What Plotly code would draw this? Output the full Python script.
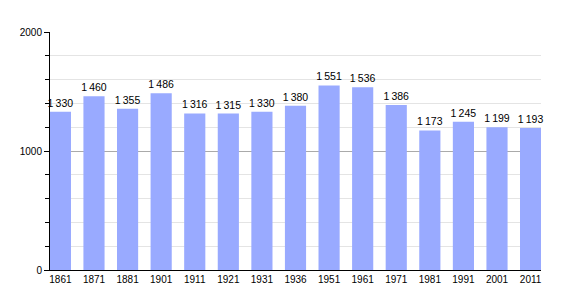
import plotly.graph_objects as go

years = ["1861", "1871", "1881", "1901", "1911", "1921", "1931", "1936",
         "1951", "1961", "1971", "1981", "1991", "2001", "2011"]
population = [1330, 1460, 1355, 1486, 1316, 1315, 1330, 1380,
              1551, 1536, 1386, 1173, 1245, 1199, 1193]
labels = [f"{v // 1000}\u2009{v % 1000:03d}" for v in population]

fig = go.Figure(go.Bar(
    x=list(range(len(years))), y=population, text=labels,
    textposition="outside", cliponaxis=False, constraintext="none",
    textfont=dict(size=10.5, color="black", family="Liberation Sans, Arial"),
    marker=dict(color="#99aaff", line=dict(width=0)),
    width=0.63,
))

fig.update_layout(
    width=570, height=300,
    margin=dict(l=50, r=29, t=32, b=30),
    paper_bgcolor="white", plot_bgcolor="white",
    showlegend=False,
    font=dict(family="Liberation Sans, Arial", size=10, color="black"),
    xaxis=dict(
        tickmode="array", tickvals=list(range(len(years))), ticktext=years,
        range=[-0.31, 14.31], showgrid=False, showline=True,
        linecolor="black", linewidth=1, ticks="", zeroline=False,
        tickfont=dict(size=10), ticklen=0,
    ),
    yaxis=dict(
        range=[0, 2000], dtick=1000, showline=True, linecolor="black",
        linewidth=1, ticks="outside", ticklen=5, tickcolor="black",
        gridcolor="#aaaaaa", gridwidth=1, zeroline=False,
        tickfont=dict(size=10),
        minor=dict(dtick=200, ticks="outside", ticklen=4, tickcolor="black",
                   showgrid=True, gridcolor="#e4e4e4", gridwidth=1),
    ),
)
fig.write_html("out.html")
